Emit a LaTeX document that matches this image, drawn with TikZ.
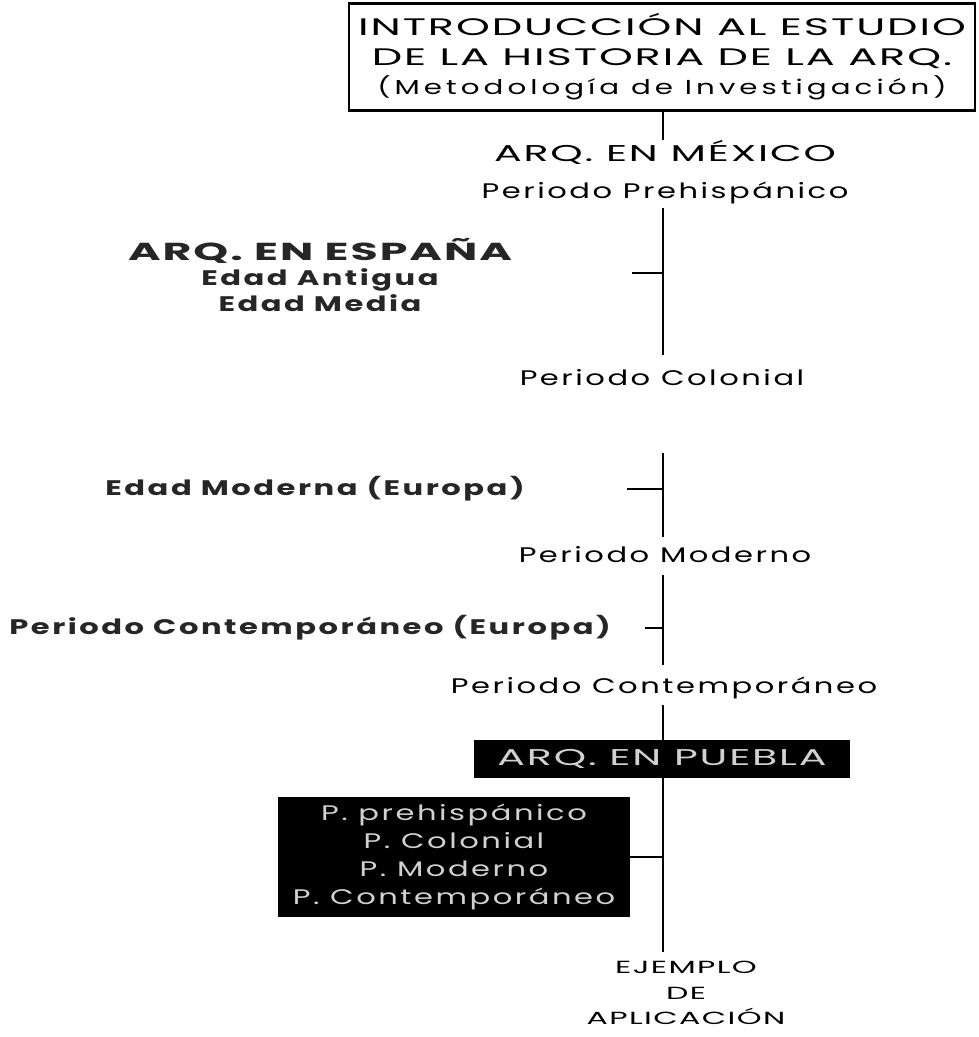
\documentclass[tikz,border=0pt]{standalone}
\usepackage{fontspec}
\setmainfont{Poppins}[FakeStretch=1.45,LetterSpace=12]
\newfontfamily\capsfont{Poppins}[FakeStretch=1.8,LetterSpace=8]
\usetikzlibrary{positioning}
\newcommand\fs[2]{\fontsize{#1}{#2}\selectfont}
\tikzset{
  title box/.style={draw,line width=1.2pt,minimum width=12.52cm,minimum height=2.14cm,
    align=center,inner sep=0pt},
  lbl/.style={font=\fs{12}{21},align=center,inner sep=1pt},
  old/.style={font=\fs{12}{14.5}\bfseries,text=black!85,align=center,inner sep=1pt},
  dark box/.style={fill=black,text=black!18,align=center,inner sep=0pt,font=\fs{12}{16}},
  trunk/.style={line width=1.1pt},
  twig/.style={line width=0.8pt},
}

\begin{document}
\begin{tikzpicture}[x=0.02cm,y=-0.02cm]
  \useasboundingbox (0,0) rectangle (979,1037);
  % heading
  \node[title box] (intro) at (662,57)
    {\capsfont\fs{13.6}{18}INTRODUCCIÓN AL ESTUDIO\\[5pt]
     \capsfont\fs{13.6}{18}DE LA HISTORIA DE LA ARQ.\\[3pt]
     \fs{11.5}{17}\addfontfeature{LetterSpace=20}(Metodología de Investigación)};
  % main column
  \node[lbl] (mex) at (665,172) {\capsfont\fs{13}{21}ARQ. EN MÉXICO\\Periodo Prehispánico};
  \node[lbl] (col) at (662,378) {Periodo Colonial};
  \node[lbl] (mod) at (665,555) {Periodo Moderno};
  \node[lbl] (con) at (664,688) {Periodo Contemporáneo};
  \node[dark box,minimum width=7.52cm,minimum height=0.76cm,font=\capsfont\fs{13}{15}]
    (pue) at (662,759) {ARQ. EN PUEBLA};
  \node[dark box,minimum width=7.04cm,minimum height=2.42cm] (per) at (454,857)
    {P. prehispánico\\P. Colonial\\P. Moderno\\P. Contemporáneo};
  \node[lbl,font=\capsfont\fs{10}{14.5}] (eje) at (686,993) {EJEMPLO\\DE\\APLICACIÓN};
  % europe
  \node[old] (esp) at (320,275)
    {\capsfont\bfseries\fs{14}{15}ARQ. EN ESPAÑA\\Edad Antigua\\Edad Media};
  \node[old] (emo) at (315,489) {Edad Moderna (Europa)};
  \node[old] (eco) at (310,628) {Periodo Contemporáneo (Europa)};
  % trunk points
  \coordinate (a1) at (663,140);
  \coordinate (a2) at (663,208); \coordinate (a3) at (663,355);
  \coordinate (a4) at (663,453); \coordinate (a5) at (663,537);
  \coordinate (a6) at (663,575); \coordinate (a7) at (663,665);
  \coordinate (a8) at (663,705); \coordinate (a9) at (663,952);
  \coordinate (s1) at (632,273); \coordinate (s2) at (627,489); \coordinate (s3) at (645,628);
  % connectors
  \draw[trunk] (intro.south -| a1) -- (a1);
  \draw[trunk] (a2) -- (a3);
  \draw[trunk] (a4) -- (a5);
  \draw[trunk] (a6) -- (a7);
  \draw[trunk] (a8) -- (pue.north -| a8);
  \draw[trunk] (pue.south -| a9) -- (a9);
  \draw[twig] (s1) -- (s1 -| a2);
  \draw[twig] (s2) -- (s2 -| a4);
  \draw[twig] (s3) -- (s3 -| a6);
  \draw[twig] (per.east) -- (per.east -| a9);
\end{tikzpicture}
\end{document}
